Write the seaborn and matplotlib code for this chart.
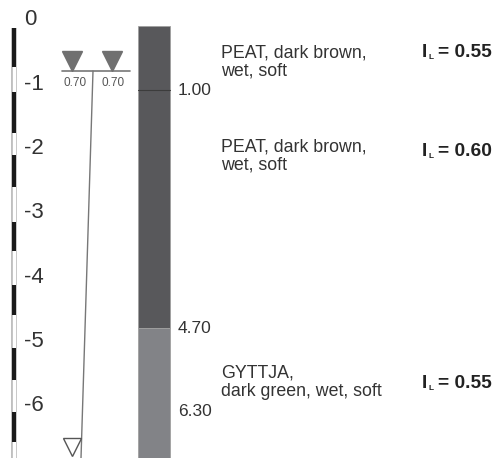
import matplotlib
matplotlib.use("Agg")
import matplotlib.pyplot as plt
import seaborn as sns

# soil profile data (depths in m below ground)
layer_tops = [0.00, 1.00, 4.70]
layer_bottoms = [1.00, 4.70, 6.72]
layer_colors = ["#58585b", "#58585b", "#828387"]
depth_labels = ["1.00", "4.70", "6.30"]
depth_label_at = [1.00, 4.70, 6.30]
layer_names = ["PEAT, dark brown,\nwet, soft",
               "PEAT, dark brown,\nwet, soft",
               "GYTTJA,\ndark green, wet, soft"]
il_values = ["0.55", "0.60", "0.55"]
water_level = 0.70
water_labels = ["0.70", "0.70"]
tick_values = [0, -1, -2, -3, -4, -5, -6]
stripe_tops = [0.03, 1.03, 2.00, 3.05, 4.03, 5.00, 6.00]
stripe_bottoms = [0.64, 1.66, 2.50, 3.50, 4.50, 5.50, 6.47]

sns.set_style("white")
plt.rcParams["font.family"] = ["Liberation Sans", "DejaVu Sans"]

fig = plt.figure(figsize=(5.02, 4.58), dpi=100)
ax = fig.add_axes([0, 0, 1, 1])
ax.set_xlim(0, 502)
ax.set_ylim(-6.718, 0.404)
ax.axis("off")

txt = "#333333"
px = 1 / 64.3  # one pixel in metres

# striped depth scale
ax.plot([14, 14], [-0.03, -6.72], color="#bbbbbb", lw=4.2, solid_capstyle="butt")
ax.plot([14, 14], [-0.03, -6.72], color="white", lw=2.4, solid_capstyle="butt")
for t, b in zip(stripe_tops, stripe_bottoms):
    ax.bar(14, -(b - t), bottom=-t, width=4.4, color="#1a1a1a", linewidth=0, zorder=3)
for v in tick_values:
    ax.text(24, v + 0.095, str(v), fontsize=16, color=txt, ha="left", va="center")

# soil column
for t, b, c in zip(layer_tops, layer_bottoms, layer_colors):
    ax.bar(154, -(b - t), bottom=-t, width=32, color=c, edgecolor="#a0a0a0", linewidth=0.6)
ax.plot([138, 170], [-1.00, -1.00], color="#3c3c3c", lw=0.8)
for lab, d in zip(depth_labels, depth_label_at):
    off = 0.3 if lab == "6.30" else 0.0
    ax.text(178, -d + off, lab, fontsize=12.5, color=txt, ha="left", va="center")

# descriptions and liquidity index
desc_y = [62, 156, 382]
il_y = [53, 152, 383]
for name, y in zip(layer_names, desc_y):
    ax.text(221, -(y - 26) * px, name, fontsize=12.8, color=txt, ha="left",
            va="center", linespacing=1.15)
for il, y in zip(il_values, il_y):
    yy = -(y - 26) * px
    ax.text(422, yy, "I", fontsize=13.8, color="#222222", ha="left", va="center",
            fontweight="bold")
    ax.text(429, yy - 5 * px, "L", fontsize=6, color="#222222", ha="left",
            va="center", fontweight="bold")
    ax.text(438, yy, "= " + il, fontsize=13.8, color="#222222", ha="left",
            va="center", fontweight="bold")

# groundwater level / piezometer
ax.plot([62, 130], [-water_level, -water_level], color="#777777", lw=1.2)
ax.plot([72, 112], [-water_level + 10 * px] * 2, marker="v", ms=15, ls="none",
        color="#707070")
for x, lab in zip([75, 113], water_labels):
    ax.text(x, -water_level - 12 * px, lab, fontsize=8.5, color="#555555",
            ha="center", va="center")
ax.plot([93, 81], [-water_level, -6.72], color="#777777", lw=1.0)
ax.plot([72], [-6.72 + 11 * px], marker="v", ms=13, ls="none",
        markerfacecolor="white", markeredgecolor="#555555", markeredgewidth=1.0)

fig.savefig("out.png", dpi=100)
